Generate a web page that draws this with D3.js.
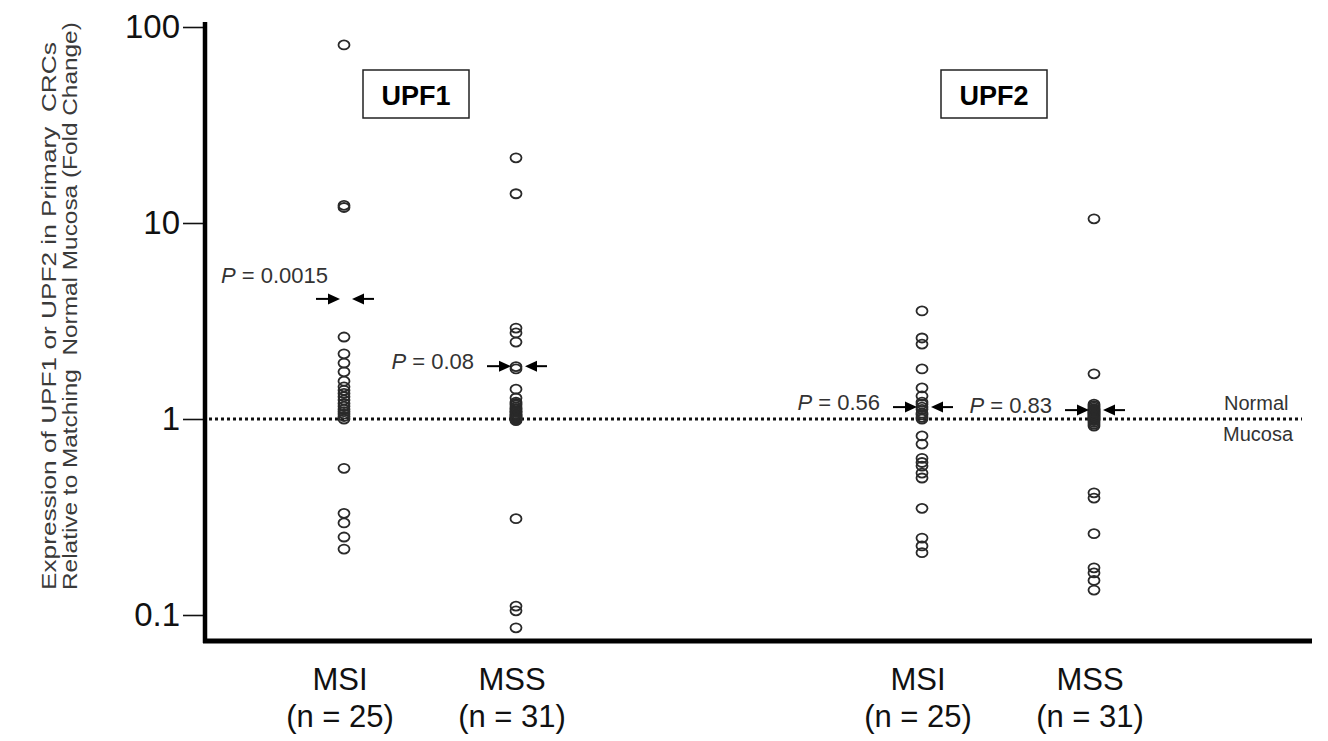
<!DOCTYPE html>
<html>
<head>
<meta charset="utf-8">
<script src="https://cdn.jsdelivr.net/npm/d3@7"></script>
<style>
  body { margin: 0; background: #fff; }
  text { font-family: Arial, "Liberation Sans", sans-serif; }
</style>
</head>
<body>
<script>
// data (fold change, log scale)
const genes = ["UPF1", "UPF2"];
const groups = ["MSI", "MSS"];
const groupCounts = ["(n = 25)", "(n = 31)"];
const yTicks = [0.1, 1, 10, 100];
const yTitleLines = ["Expression of UPF1 or UPF2 in Primary  CRCs",
  "Relative to Matching  Normal Mucosa (Fold Change)"];

const upf1MSI = [81, 12.3, 12.0, 2.62, 2.15, 1.93, 1.74, 1.56, 1.46, 1.40, 1.35, 1.30, 1.25,
  1.20, 1.16, 1.12, 1.09, 1.06, 1.03, 1.0, 0.56, 0.33, 0.295, 0.25, 0.217];
const upf1MSS = [21.5, 14.1, 2.91, 2.75, 2.47, 1.85, 1.8, 1.42, 1.28, 1.22, 1.2, 1.18, 1.15,
  1.13, 1.12, 1.1, 1.09, 1.08, 1.06, 1.05, 1.04, 1.03, 1.02, 1.01, 1.0, 0.99, 0.98,
  0.31, 0.111, 0.105, 0.086];
const upf2MSI = [3.56, 2.59, 2.41, 1.8, 1.44, 1.31, 1.22, 1.19, 1.15, 1.12, 1.07, 1.05, 1.02,
  1.0, 0.82, 0.745, 0.63, 0.6, 0.575, 0.53, 0.5, 0.35, 0.247, 0.225, 0.208];
const upf2MSS = [10.5, 1.7, 1.19, 1.17, 1.15, 1.13, 1.12, 1.11, 1.1, 1.09, 1.08, 1.07, 1.06,
  1.05, 1.04, 1.03, 1.02, 1.01, 1.0, 0.99, 0.98, 0.96, 0.94, 0.92,
  0.42, 0.395, 0.26, 0.174, 0.164, 0.15, 0.134];

// P value labels and where the arrows point
const pValues = ["0.0015", "0.08", "0.56", "0.83"];
const arrowLevels = [4.1, 1.86, 1.15, 1.11];

const columns = [
  { gene: "UPF1", group: "MSI", values: upf1MSI },
  { gene: "UPF1", group: "MSS", values: upf1MSS },
  { gene: "UPF2", group: "MSI", values: upf2MSI },
  { gene: "UPF2", group: "MSS", values: upf2MSS }
];

const W = 1328, H = 741;
const axisX = 205, axisY = 641;

const svg = d3.select("body").append("svg")
  .attr("width", W).attr("height", H);

// scales
const y = d3.scaleLog().domain([0.1, 100]).range([615, 27]);
const xGene = d3.scaleBand().domain(genes).range([141, 1297]);
const xGroup = d3.scalePoint().domain(groups).range([-86, 86]);
const colX = (c) => xGene(c.gene) + xGene.bandwidth() / 2 + xGroup(c.group);

// y axis
const yAxis = d3.axisLeft(y)
  .tickValues(yTicks)
  .tickFormat(d3.format("~g"))
  .tickSize(22)
  .tickPadding(3);

const gy = svg.append("g")
  .attr("transform", "translate(" + axisX + ",0)")
  .call(yAxis);
gy.select(".domain").remove();
gy.selectAll(".tick line").attr("stroke", "#111").attr("stroke-width", 1.6);
gy.selectAll(".tick text")
  .attr("fill", "#111")
  .style("font-size", "33px");

// thick axis lines
svg.append("line")
  .attr("x1", axisX).attr("x2", axisX)
  .attr("y1", 22).attr("y2", axisY + 2)
  .attr("stroke", "#000").attr("stroke-width", 4.5);
svg.append("line")
  .attr("x1", axisX - 2).attr("x2", 1312)
  .attr("y1", axisY).attr("y2", axisY)
  .attr("stroke", "#000").attr("stroke-width", 5);

// y title: two rotated lines, stretched along their length like the original
const titleBase = [56, 77], titleLen = [548, 568];
yTitleLines.forEach((s, i) => {
  const t = svg.append("text")
    .attr("xml:space", "preserve")
    .attr("fill", "#3a3a3a")
    .style("font-size", "21px")
    .text(s);
  const sx = titleLen[i] / t.node().getComputedTextLength();
  t.attr("transform", "translate(" + titleBase[i] + ",590) rotate(-90) scale(" + sx + ",1)");
});

// normal mucosa reference line
svg.append("line")
  .attr("x1", axisX + 4).attr("x2", 1302)
  .attr("y1", y(1)).attr("y2", y(1))
  .attr("stroke", "#111").attr("stroke-width", 3)
  .attr("stroke-dasharray", "3,3");
svg.append("text")
  .attr("x", 1224).attr("y", y(1) - 9)
  .attr("fill", "#333").style("font-size", "20px")
  .text("Normal");
svg.append("text")
  .attr("x", 1223).attr("y", y(1) + 22)
  .attr("fill", "#333").style("font-size", "20px")
  .text("Mucosa");

// gene boxes
genes.forEach((g) => {
  const cx = xGene(g) + xGene.bandwidth() / 2 - 14;
  svg.append("rect")
    .attr("x", cx - 53).attr("y", 70)
    .attr("width", 106).attr("height", 48)
    .attr("fill", "none").attr("stroke", "#222").attr("stroke-width", 1.5);
  svg.append("text")
    .attr("x", cx).attr("y", 105)
    .attr("text-anchor", "middle")
    .attr("fill", "#000")
    .style("font-size", "27px").style("font-weight", "bold")
    .text(g);
});

// points
columns.forEach((c) => {
  svg.append("g").selectAll("ellipse")
    .data(c.values)
    .join("ellipse")
    .attr("cx", colX(c))
    .attr("cy", (d) => y(d))
    .attr("rx", 5.5).attr("ry", 4.5)
    .attr("fill", "none")
    .attr("stroke", "#2a2a2a")
    .attr("stroke-width", 1.8);
});

// arrows and P values
columns.forEach((c, i) => {
  const cx = colX(c) + 2;
  const ay = y(arrowLevels[i]);
  const gap = i === 0 ? 6 : 7;
  const lt = cx - gap, rt = cx + gap;
  const a = svg.append("g").attr("fill", "#000").attr("stroke", "#000");
  // right-pointing
  a.append("line").attr("x1", lt - 24).attr("x2", lt - 8)
    .attr("y1", ay).attr("y2", ay).attr("stroke-width", 2);
  a.append("path").attr("stroke", "none")
    .attr("d", "M" + lt + "," + ay + "L" + (lt - 12) + "," + (ay - 5.5) + "L" + (lt - 12) + "," + (ay + 5.5) + "Z");
  // left-pointing
  a.append("line").attr("x1", rt + 8).attr("x2", rt + 22)
    .attr("y1", ay).attr("y2", ay).attr("stroke-width", 2);
  a.append("path").attr("stroke", "none")
    .attr("d", "M" + rt + "," + ay + "L" + (rt + 12) + "," + (ay - 5.5) + "L" + (rt + 12) + "," + (ay + 5.5) + "Z");

  const t = svg.append("text")
    .attr("text-anchor", "end")
    .attr("x", i === 0 ? colX(c) - 16 : colX(c) - 42)
    .attr("y", i === 0 ? ay - 16 : ay + 3)
    .attr("fill", "#333")
    .style("font-size", "22px");
  t.append("tspan").style("font-style", "italic").text("P");
  t.append("tspan").text(" = " + pValues[i]);
});

// category labels under the axis
columns.forEach((c) => {
  const gi = groups.indexOf(c.group);
  const lx = colX(c) - 4;
  svg.append("text")
    .attr("x", lx).attr("y", 690)
    .attr("text-anchor", "middle")
    .attr("fill", "#111").style("font-size", "31px")
    .text(c.group);
  svg.append("text")
    .attr("x", lx).attr("y", 727)
    .attr("text-anchor", "middle")
    .attr("fill", "#111").style("font-size", "31px")
    .text(groupCounts[gi]);
});
</script>
</body>
</html>
